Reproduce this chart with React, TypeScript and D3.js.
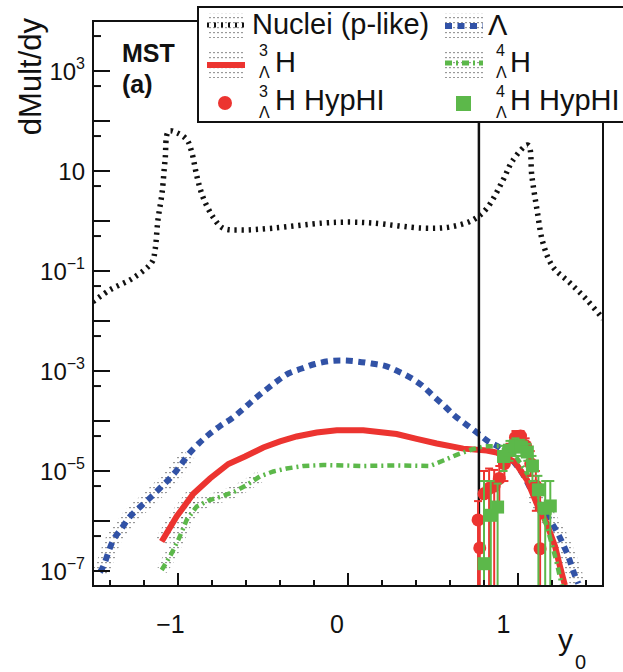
import React from "react";
import * as d3 from "d3";

// ---------- data ----------
const nucleiX = [-1.5, -1.4, -1.265, -1.153, -1.135, -1.118, -1.094, -1.076, -1.055, -1.006, -0.947, -0.918, -0.888, -0.853, -0.794, -0.735, -0.635, -0.441, -0.147, 0.012, 0.147, 0.441, 0.6, 0.735, 0.818, 0.912, 0.971, 1.059, 1.082, 1.112, 1.147, 1.206, 1.306, 1.406, 1.5];
const nucleiY = [2.43e-2, 4.2e-2, 7.2e-2, 0.151, 0.263, 1.05, 3.6, 16.6, 62, 58, 41.7, 22.9, 7.6, 3.0, 1.2, 0.72, 0.66, 0.72, 0.91, 0.95, 0.91, 0.72, 0.76, 1.05, 1.82, 6.6, 16.6, 33, 7.6, 1.66, 0.363, 0.12, 5.75e-2, 2.63e-2, 1.1e-2];

const lambdaX = [-1.459, -1.44, -1.38, -1.331, -1.282, -1.214, -1.155, -1.096, -1.037, -0.988, -0.939, -0.881, -0.822, -0.753, -0.684, -0.616, -0.557, -0.488, -0.419, -0.351, -0.272, -0.194, -0.106, -0.028, 0.051, 0.139, 0.218, 0.296, 0.375, 0.443, 0.502, 0.571, 0.629, 0.688, 0.757, 0.825, 0.894, 1.012, 1.09, 1.149, 1.228, 1.267, 1.296, 1.326, 1.355];
const lambdaY = [9.5e-8, 1.23e-7, 4.2e-7, 7.2e-7, 1.23e-6, 2.04e-6, 3.1e-6, 4.9e-6, 7.8e-6, 1.26e-5, 2.14e-5, 3.47e-5, 5.25e-5, 7.9e-5, 1.12e-4, 1.74e-4, 2.63e-4, 4.07e-4, 6.2e-4, 8.9e-4, 1.12e-3, 1.38e-3, 1.58e-3, 1.62e-3, 1.55e-3, 1.41e-3, 1.26e-3, 9.8e-4, 7.1e-4, 4.9e-4, 3.16e-4, 1.95e-4, 1.26e-4, 8.9e-5, 5.9e-5, 3.9e-5, 2.9e-5, 1.05e-5, 3.5e-6, 1.66e-6, 6.2e-7, 3.3e-7, 1.95e-7, 9.8e-8, 5.6e-8];

const h3X = [-1.096, -1.008, -0.91, -0.812, -0.704, -0.606, -0.498, -0.4, -0.302, -0.184, -0.066, 0.09, 0.286, 0.404, 0.522, 0.678, 0.816, 0.875, 0.982, 1.053, 1.11, 1.169, 1.218, 1.247, 1.276];
const h3Y = [3.9e-7, 1.23e-6, 3.5e-6, 7.1e-6, 1.38e-5, 1.95e-5, 2.95e-5, 3.9e-5, 4.9e-5, 5.9e-5, 6.5e-5, 6.5e-5, 5.5e-5, 4.4e-5, 3.55e-5, 2.8e-5, 2.57e-5, 2.34e-5, 1.51e-5, 6.6e-6, 2.24e-6, 8.9e-7, 3.1e-7, 1.23e-7, 5.2e-8];

const h4X = [-1.096, -1.047, -0.998, -0.949, -0.89, -0.822, -0.743, -0.665, -0.596, -0.518, -0.439, -0.361, -0.263, -0.145, -0.028, 0.09, 0.286, 0.482, 0.561, 0.639, 0.718, 0.796, 0.894, 0.982, 1.059, 1.118, 1.176, 1.224, 1.259];
const h4Y = [1.05e-7, 1.95e-7, 4.2e-7, 1.05e-6, 1.95e-6, 2.57e-6, 3.1e-6, 3.9e-6, 5.25e-6, 7.8e-6, 9.8e-6, 1.12e-5, 1.26e-5, 1.32e-5, 1.29e-5, 1.26e-5, 1.29e-5, 1.26e-5, 1.62e-5, 2.1e-5, 2.63e-5, 3.1e-5, 3.16e-5, 2.1e-5, 8.3e-6, 2.63e-6, 6.6e-7, 1.66e-7, 5e-8];

// HypHI data (lo = 0 means the error bar reaches below the axis)
const hyp3X = [0.765, 0.775, 0.8, 0.83, 0.86, 0.89, 0.92, 0.95, 0.985, 1.015, 1.045, 1.075, 1.105, 1.13];
const hyp3Y = [1.05e-6, 2.9e-7, 3.5e-6, 4.5e-6, 5e-6, 7.1e-6, 1.4e-5, 2.5e-5, 4.7e-5, 5e-5, 3.2e-5, 1.4e-5, 5e-6, 2.8e-7];
const hyp3Hi = [2.5e-6, 1e-6, 1e-5, 1.12e-5, 1.05e-5, 1.26e-5, 2.2e-5, 3.5e-5, 6.3e-5, 6.3e-5, 4.5e-5, 2.5e-5, 1e-5, 4e-6];
const hyp3Lo = [0, 0, 0, 0, 0, 1.6e-6, 6.3e-6, 1.6e-5, 3.5e-5, 4e-5, 2.2e-5, 8e-6, 1.6e-6, 0];

const hyp4X = [0.8, 0.84, 0.88, 0.915, 0.95, 0.985, 1.02, 1.055, 1.085, 1.12, 1.16, 1.19];
const hyp4Y = [1.4e-7, 1.3e-6, 1.9e-6, 1.95e-5, 2.6e-5, 3.2e-5, 3e-5, 2.4e-5, 1.26e-5, 4.2e-6, 1.8e-6, 2e-6];
const hyp4Hi = [6.3e-6, 6.3e-6, 5.6e-6, 3.2e-5, 4e-5, 4.5e-5, 4.2e-5, 3.5e-5, 2e-5, 8e-6, 6.3e-6, 6.3e-6];
const hyp4Lo = [0, 0, 0, 1e-5, 1.6e-5, 2e-5, 2e-5, 1.6e-5, 6.3e-6, 0, 0, 0];

const yLabelValues = [1e-7, 1e-5, 1e-3, 1e-1, 10, 1e3];
const xLabelValues = [-1, 0, 1];
const cutLineX = 0.77;

// ---------- styles ----------
const FONT = "'Liberation Sans', Arial, Helvetica, sans-serif";
const RED = "#ec3430";
const GREEN = "#5cb84a";
const BLUE = "#3152a6";

const PL = 93, PR = 603, PT = 21, PB = 586;

export default function App() {
  const x = d3.scaleLinear().domain([-1.5, 1.5]).range([PL, PR]);
  const y = d3.scaleLog().domain([Math.pow(10, -7.3), 1e4]).range([PB, PT]);

  type P = [number, number];
  const zip = (xs: number[], ys: number[]): P[] => xs.map((v, i) => [v, ys[i]]);
  const lineLin = d3.line<P>().x(d => x(d[0])).y(d => y(d[1]));
  const lineSmooth = d3.line<P>().x(d => x(d[0])).y(d => y(d[1])).curve(d3.curveCatmullRom.alpha(0.5));

  const nuc = zip(nucleiX, nucleiY);
  const lam = zip(lambdaX, lambdaY);
  const h3 = zip(h3X, h3Y);
  const h4 = zip(h4X, h4Y);

  const majorY: number[] = [];
  const minorY: number[] = [];
  for (let k = -7; k <= 3; k++) majorY.push(Math.pow(10, k));
  for (let k = -7; k <= 3; k++) minorY.push(5 * Math.pow(10, k));
  const xTicks = d3.range(-14, 15, 2).map(v => v / 10);

  const yOf = (v: number) => (v <= 0 ? PB : Math.min(PB, y(v)));

  const errorBars = (xs: number[], lo: number[], hi: number[], color: string) =>
    xs.map((xv, i) => {
      const cx = x(xv);
      const yHi = yOf(hi[i]);
      const yLo = yOf(lo[i]);
      return (
        <g key={"e" + color + i} stroke={color} strokeWidth={2}>
          <line x1={cx} x2={cx} y1={yHi} y2={yLo} />
          <line x1={cx - 4} x2={cx + 4} y1={yHi} y2={yHi} />
          {lo[i] > 0 && <line x1={cx - 4} x2={cx + 4} y1={yLo} y2={yLo} />}
        </g>
      );
    });

  const sup = (exp: number) => (exp < 0 ? "\u2212" + Math.abs(exp) : String(exp));

  return (
    <svg width={623} height={672} style={{ position: "absolute", left: 0, top: 0, background: "#fff" }} fontFamily={FONT}>
      <defs>
        <pattern id="dots" width="4" height="5" patternUnits="userSpaceOnUse">
          <rect x="1.4" y="2" width="1.2" height="1.2" fill="#555" />
        </pattern>
        <clipPath id="plot">
          <rect x={PL} y={PT} width={PR - PL} height={PB - PT} />
        </clipPath>
      </defs>
      <rect x={0} y={0} width={623} height={672} fill="#fff" />

      <g clipPath="url(#plot)">
        <path d={lineSmooth(lam.filter(d => d[0] < -0.9)) || ""} fill="none" stroke="url(#dots)" strokeWidth={16} />
        <path d={lineSmooth(lam.filter(d => d[0] > 1.08)) || ""} fill="none" stroke="url(#dots)" strokeWidth={16} />
        <path d={lineLin(h3.filter(d => d[0] < -0.85)) || ""} fill="none" stroke="url(#dots)" strokeWidth={14} />
        <path d={lineLin(h4.filter(d => d[0] < -0.5)) || ""} fill="none" stroke="url(#dots)" strokeWidth={12} />

        <path d={lineSmooth(nuc) || ""} fill="none" stroke="#111" strokeWidth={5.5} strokeDasharray="2.3 4.8" />
        <path d={lineSmooth(lam) || ""} fill="none" stroke={BLUE} strokeWidth={6} strokeDasharray="7 5.5" />
        <path d={lineLin(h3) || ""} fill="none" stroke={RED} strokeWidth={6} />
        <path d={lineLin(h4) || ""} fill="none" stroke={GREEN} strokeWidth={4.5} strokeDasharray="7 4 2 4" />

        <line x1={x(cutLineX)} x2={x(cutLineX)} y1={PT} y2={PB} stroke="#111" strokeWidth={2.5} />

        {errorBars(hyp3X, hyp3Lo, hyp3Hi, RED)}
        {hyp3X.map((xv, i) => (
          <circle key={"c" + i} cx={x(xv)} cy={y(hyp3Y[i])} r={6.5} fill={RED} />
        ))}
        {errorBars(hyp4X, hyp4Lo, hyp4Hi, GREEN)}
        {hyp4X.map((xv, i) => (
          <rect key={"s" + i} x={x(xv) - 6.5} y={y(hyp4Y[i]) - 6.5} width={13} height={13} fill={GREEN} />
        ))}
      </g>

      <rect x={PL} y={PT} width={PR - PL} height={PB - PT} fill="none" stroke="#111" strokeWidth={2} />

      {majorY.map((v, i) => (
        <line key={"my" + i} x1={PL} x2={PL + 17} y1={y(v)} y2={y(v)} stroke="#111" strokeWidth={2} />
      ))}
      {minorY.map((v, i) => (
        <line key={"ny" + i} x1={PL} x2={PL + 8} y1={y(v)} y2={y(v)} stroke="#111" strokeWidth={2} />
      ))}
      {xTicks.map((v, i) => {
        const major = Math.abs(v - Math.round(v)) < 1e-6;
        return (
          <line key={"xt" + i} x1={x(v)} x2={x(v)} y1={PB} y2={PB - (major ? 13 : 6)} stroke="#111" strokeWidth={2} />
        );
      })}

      {yLabelValues.map((v, i) => {
        const e = Math.round(Math.log10(v));
        return (
          <text key={"yl" + i} x={85} y={y(v) + 9} textAnchor="end" fontSize={24} fill="#111">
            10
            {e !== 1 && (
              <tspan fontSize={16} dy={-11}>
                {sup(e)}
              </tspan>
            )}
          </text>
        );
      })}

      {xLabelValues.map((v, i) => (
        <text key={"xl" + i} x={x(v) - 11 - 3.5 * v} y={633} textAnchor="middle" fontSize={25} fill="#111">
          {v < 0 ? "\u2212" + Math.abs(v) : String(v)}
        </text>
      ))}

      <text transform="translate(41,18) rotate(-90)" textAnchor="end" fontSize={31} fill="#111">
        dMult/dy
      </text>
      <text x={558} y={650} fontSize={30} fill="#111">y</text>
      <text x={575} y={669} fontSize={20} fill="#111">0</text>

      <text x={122} y={62} fontSize={25} fontWeight="bold" fill="#111">MST</text>
      <text x={122} y={93} fontSize={25} fontWeight="bold" fill="#111">(a)</text>

      <g>
        <rect x={198} y={7} width={440} height={115} fill="#fff" stroke="#111" strokeWidth={2} />
        <rect x={207} y={13} width={38} height={25} fill="url(#dots)" />
        <line x1={207} x2={245} y1={25} y2={25} stroke="#111" strokeWidth={5} strokeDasharray="2 5" />
        <text x={252} y={34} fontSize={29} fill="#111">Nuclei (p-like)</text>
        <rect x={445} y={13} width={38} height={25} fill="url(#dots)" />
        <line x1={445} x2={483} y1={26} y2={26} stroke={BLUE} strokeWidth={6} strokeDasharray="7 5.5" />
        <text x={488} y={35} fontSize={29} fill="#111">Λ</text>

        <rect x={207} y={50} width={38} height={28} fill="url(#dots)" />
        <line x1={207} x2={245} y1={65} y2={65} stroke={RED} strokeWidth={6} />
        <text x={259} y={56} fontSize={16} fill="#111">3</text>
        <text x={259} y={78} fontSize={16} fill="#111">Λ</text>
        <text x={275} y={72} fontSize={29} fill="#111">H</text>
        <rect x={445} y={50} width={38} height={28} fill="url(#dots)" />
        <line x1={445} x2={483} y1={63} y2={63} stroke={GREEN} strokeWidth={5} strokeDasharray="7 4 2 4" />
        <text x={496} y={56} fontSize={16} fill="#111">4</text>
        <text x={496} y={78} fontSize={16} fill="#111">Λ</text>
        <text x={510} y={72} fontSize={29} fill="#111">H</text>

        <circle cx={225} cy={103} r={7} fill={RED} />
        <text x={259} y={97} fontSize={16} fill="#111">3</text>
        <text x={259} y={118} fontSize={16} fill="#111">Λ</text>
        <text x={275} y={110} fontSize={29} fill="#111">H HypHI</text>
        <rect x={456} y={96} width={15} height={15} fill={GREEN} />
        <text x={496} y={97} fontSize={16} fill="#111">4</text>
        <text x={496} y={118} fontSize={16} fill="#111">Λ</text>
        <text x={510} y={110} fontSize={29} fill="#111">H HypHI</text>
      </g>
    </svg>
  );
}
